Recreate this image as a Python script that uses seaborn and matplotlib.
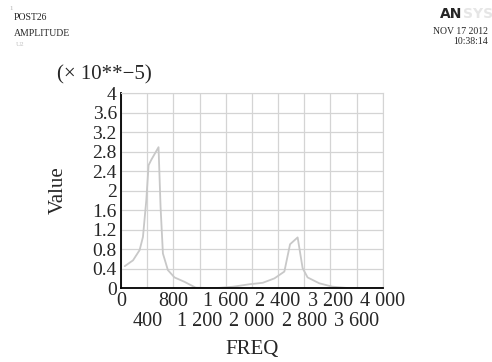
import matplotlib
matplotlib.use("Agg")
import matplotlib.pyplot as plt
import seaborn as sns
import pandas as pd

freq = [56, 183, 284, 335, 386, 421, 462, 573, 604, 640, 716, 817, 969, 1141, 1450, 1716, 1963, 2166, 2344, 2496, 2583, 2699, 2775, 2851, 3029, 3231, 3485, 4000]
value = [0.45, 0.57, 0.78, 1.05, 1.80, 2.52, 2.63, 2.89, 1.67, 0.71, 0.37, 0.22, 0.13, 0.01, 0.0, 0.03, 0.08, 0.11, 0.20, 0.34, 0.90, 1.04, 0.41, 0.22, 0.10, 0.03, 0.0, 0.0]
xticks_row1 = [0, 800, 1600, 2400, 3200, 4000]
xlabels_row1 = ["0", "800", "1 600", "2 400", "3 200", "4 000"]
xticks_row2 = [400, 1200, 2000, 2800, 3600]
xlabels_row2 = ["400", "1 200", "2 000", "2 800", "3 600"]
yticks = [0, 0.4, 0.8, 1.2, 1.6, 2.0, 2.4, 2.8, 3.2, 3.6, 4.0]
yticklabels = ["0", "0.4", "0.8", "1.2", "1.6", "2", "2.4", "2.8", "3.2", "3.6", "4"]

sns.set_style("white")
plt.rcParams['font.family'] = ['Liberation Serif', 'DejaVu Serif']

df = pd.DataFrame({"FREQ": freq, "Value": value})
fig = plt.figure(figsize=(4.92, 3.62), dpi=100)
ax = fig.add_axes([0.246, 0.204, 0.532, 0.539])
sns.lineplot(data=df, x="FREQ", y="Value", ax=ax, color="#c8c8c8", linewidth=1.3)
ax.set_xlim(0, 4000)
ax.set_ylim(0, 4)
ax.set_xticks(xticks_row1)
ax.set_xticklabels(xlabels_row1, fontsize=14.5)
ax.set_xticks(xticks_row2, minor=True)
ax.set_xticklabels(xlabels_row2, minor=True, fontsize=14.5)
ax.set_yticks(yticks)
ax.set_yticklabels(yticklabels, fontsize=14)
ax.tick_params(axis="y", length=0, pad=3)
ax.tick_params(axis="x", which="major", length=0, pad=3)
ax.tick_params(axis="x", which="minor", length=0, pad=17)
ax.grid(True, which="both", color="#d4d4d4", linewidth=0.9)
for s in ["top", "right"]:
    ax.spines[s].set_color("#d4d4d4")
for s in ["left", "bottom"]:
    ax.spines[s].set_color("black")
    ax.spines[s].set_linewidth(1.3)
ax.set_xlabel("FREQ", fontsize=15, labelpad=7)
ax.set_ylabel("Value", fontsize=15, labelpad=18)

fig.text(57/492, 1-75/362, "(\u00d7 10**\u22125)", fontsize=15, va="center", ha="left")
fig.text(14/492, 1-18/362, "POST26", fontsize=7, va="center", ha="left")
fig.text(14/492, 1-33/362, "AMPLITUDE", fontsize=7, va="center", ha="left")
fig.text(9/492, 1-9/362, "1", fontsize=5, color="#b0b0b0", va="center", ha="left")
fig.text(16/492, 1-45/362, "U2", fontsize=5, color="#c0c0c0", va="center", ha="left")
fig.text(440/492, 1-14/362, "AN", fontsize=10, fontweight="bold", family="DejaVu Sans", va="center", ha="left")
fig.text(463/492, 1-14/362, "SYS", fontsize=10, fontweight="bold", family="DejaVu Sans", color="#e6e6e6", va="center", ha="left")
fig.text(488/492, 1-31/362, "NOV 17 2012", fontsize=7, va="center", ha="right")
fig.text(488/492, 1-42/362, "10:38:14", fontsize=7, va="center", ha="right")

fig.savefig("out.png", dpi=100)
